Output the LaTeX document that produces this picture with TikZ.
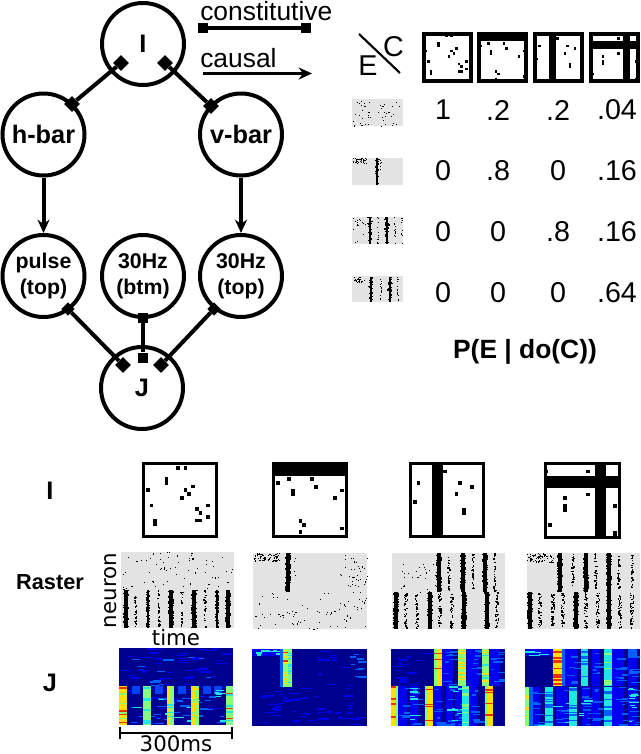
\documentclass[tikz,border=0pt]{standalone}
\usepackage{fontspec}
\setmainfont{Liberation Sans}
\newfontfamily\dejavu{DejaVu Sans}
\usetikzlibrary{arrows.meta,shapes.geometric}
\definecolor{rastergray}{HTML}{E3E3E3}
\definecolor{jnavy}{HTML}{00008F}
\definecolor{jblue}{HTML}{0000F0}
\definecolor{jazure}{HTML}{0060FF}
\definecolor{jcyan}{HTML}{20E8E0}
\definecolor{jgreen}{HTML}{88FF78}
\definecolor{jyellow}{HTML}{FFE000}
\definecolor{jred}{HTML}{E83000}
\tikzset{
  var/.style={circle,draw,line width=3pt,minimum size=61.5pt,inner sep=0pt,align=center,font=\bfseries\fontsize{16}{19.5}\selectfont},
  bigvar/.style={var,font=\bfseries\fontsize{19}{22}\selectfont},
  biglabel/.style={font=\bfseries\fontsize{19}{22}\selectfont},
  plainlabel/.style={inner sep=0pt,font=\fontsize{19.8}{22}\selectfont},
  numlabel/.style={inner sep=0pt,font=\fontsize{21.5}{24}\selectfont},
  dejalabel/.style={inner sep=0pt,font=\dejavu\fontsize{16}{19}\selectfont},
  dia/.style={diamond,fill=black,minimum size=12pt,inner sep=0pt},
  sq/.style={rectangle,fill=black,minimum size=7.5pt,inner sep=0pt},
  link/.style={line width=3pt},
  cause/.style={line width=3pt,-{Stealth[length=10pt,width=9pt]}}
}
% scattered raster dots: x0 x1 y0 y1 n size
\newcommand{\myDots}[6]{\foreach \k in {1,...,#5}{%
  \pgfmathsetmacro\da{#1+rnd*(#2-#1)}\pgfmathsetmacro\db{#3+rnd*(#4-#3)}%
  \fill (\da,\db) rectangle ++(#6,#6);}}
% spike column: x y0 y1 halfwidth n size
\newcommand{\myBar}[6]{\foreach \k in {1,...,#5}{%
  \pgfmathsetmacro\da{#1+(2*rnd-1)*#4-#6/2}\pgfmathsetmacro\db{#2+rnd*(#3-#2-#6)}%
  \fill (\da,\db) rectangle ++(#6,#6);}}
% solid spike column: x y0 y1 halfwidth n size
\newcommand{\myThick}[6]{\fill (#1-#4*.72,#2) rectangle (#1+#4*.72,#3);\myBar{#1}{#2}{#3}{#4}{#5}{#6}}
% heat column: x0 x1 y0 y1 base
\newcommand{\myHeat}[5]{\fill[#5] (#1,#3) rectangle (#2,#4);}
% horizontal streaks within a column: x0 x1 y0 y1 colour n
\newcommand{\myRows}[6]{\foreach \k in {1,...,#6}{%
  \pgfmathsetmacro\db{#3+rnd*(#4-#3-1.3)}%
  \fill[#5] (#1,\db) rectangle (#2,\db+1.3);}}
% random short dashes: x0 x1 y0 y1 colour n
\newcommand{\myDash}[6]{\foreach \k in {1,...,#6}{%
  \pgfmathsetmacro\da{#1+rnd*(#2-#1-8)}\pgfmathsetmacro\db{#3+rnd*(#4-#3-1.3)}\pgfmathsetmacro\dl{3+rnd*9}%
  \fill[#5] (\da,\db) rectangle (\da+\dl,\db+1.3);}}
% pattern box: x y size frame-inset frame-width bars cells
\newcommand{\myBox}[7]{\begin{scope}[shift={(#1,#2)},xscale=#3/20,yscale=#3/20]
  \fill[white] (0,0) rectangle (20,20);
  #6
  \foreach \cx/\cy in #7 {\fill (\cx,\cy) rectangle ++(1,1);}
  \draw[line width=#5] (#4,#4) rectangle (20-#4,20-#4);
\end{scope}}
\newcommand{\cellsA}{9/1,11/1,6/4,6/5,1/7,11/7,13/6,12/8,10/9,2/11,14/12,15/13,17/11,17/14,14/15,15/15,3/15,3/16}
\newcommand{\cellsB}{1/5,4/4,10/4,11/6,5/7,5/8,18/7,16/9,7/15,8/16,7/18,18/17}
\newcommand{\cellsC}{9/2,2/5,13/5,16/6,12/8,1/10,14/12,14/13}
\newcommand{\cellsD}{0/2,11/2,11/8,5/9,5/11,5/12,1/16,18/11,18/18,18/19}
\newcommand{\barsB}{\fill (0,0) rectangle (20,3.7);}
\newcommand{\barsC}{\fill (6.1,0) rectangle (8.9,20);}
\newcommand{\barsD}{\fill (0,3.7) rectangle (20,6.7);\fill (13.3,0) rectangle (16.2,20);}
\begin{document}
\begin{tikzpicture}[x=.75pt,y=-.75pt]
\pgfmathsetseed{11}
\useasboundingbox (0,0) rectangle (640,754);
% --- graph
\node[bigvar] (I) at (143,44) {I};
\node[bigvar] (hbar) at (43.5,134.5) {h-bar};
\node[bigvar] (vbar) at (241,134.5) {v-bar};
\node[var] (pulse) at (43.5,276) {pulse\\(top)};
\node[var] (btm) at (143,276) {30Hz\\(btm)};
\node[var] (top) at (241,276) {30Hz\\(top)};
\node[bigvar] (J) at (142,388) {J};
\node[dia] (d1) at (121,63) {};
\node[dia] (d2) at (72,104) {};
\node[dia] (d3) at (165,63) {};
\node[dia] (d4) at (211,106) {};
\node[dia,minimum size=10pt] (d5) at (68,309) {};
\node[dia] (d6) at (123,365) {};
\node[sq] (d7) at (143,318) {};
\node[sq,minimum size=8pt] (d8) at (143,358) {};
\node[dia,minimum size=10pt] (d9) at (214,309) {};
\node[dia] (d10) at (161,365) {};
\draw[link] (d1)--(d2);
\draw[link] (d3)--(d4);
\draw[link] (d5)--(d6);
\draw[link] (d7)--(d8);
\draw[link] (d9)--(d10);
\draw[cause] (hbar)--(pulse);
\draw[cause] (vbar)--(top);
% --- legend
\node[plainlabel,anchor=base west] (con) at (200,20) {constitutive};
\node[sq] (la) at (203,28) {};
\node[sq] (lb) at (306,28) {};
\draw[link] (la)--(lb);
\node[plainlabel,anchor=base west] (cau) at (200,67) {causal};
\coordinate (ca) at (203,73.5);
\coordinate (cb) at (312,73.5);
\draw[cause,line width=2.5pt] (ca)--(cb);
% --- matrix header
\coordinate (ea) at (359,34);
\coordinate (eb) at (400,73);
\draw[line width=1.6pt] (ea)--(eb);
\node[numlabel] (cl) at (393.5,46.5) {C};
\node[numlabel] (el) at (368,66) {E};
\myBox{422}{32}{51}{.68}{2.7pt}{}{\cellsA}
\myBox{477}{32}{51}{.68}{2.7pt}{\barsB}{\cellsB}
\myBox{533}{32}{51}{.68}{2.7pt}{\barsC}{\cellsC}
\myBox{589}{32}{51}{.68}{2.7pt}{\barsD}{\cellsD}
% small rasters
\fill[rastergray] (352,99) rectangle (403,126);
\myDots{353}{402}{100}{125}{40}{.9}
\myDots{352}{403}{124}{126}{10}{1}
\fill[rastergray] (352,158) rectangle (403,185);
\myDots{353}{366}{158}{163}{40}{.8}
\myThick{377}{158}{185}{2}{30}{1.2}
\myBar{381}{158}{172}{.5}{5}{.8}
\fill[rastergray] (352,217) rectangle (403,244);
\myThick{370}{217}{244}{2}{30}{1.2}
\myThick{387}{217}{244}{2}{30}{1.2}
\myBar{378}{217}{244}{.6}{14}{1}
\myBar{395}{217}{244}{.6}{14}{1}
\myBar{402}{217}{244}{.5}{10}{1}
\myDots{353}{365}{218}{243}{16}{.8}
\fill[rastergray] (352,276) rectangle (403,302);
\myDots{352}{365}{277}{282}{25}{.8}
\myThick{371}{277}{302}{2}{30}{1.2}
\myThick{390}{277}{302}{2}{30}{1.2}
\myBar{381}{277}{302}{.8}{16}{1}
\myBar{398}{277}{302}{.8}{16}{1}
% numbers
\foreach \nm/\px/\py/\tx in {a1/443/110/1,a2/498/110/.2,a3/558/110/.2,a4/617/110/.04,
  b1/443/171/0,b2/498/171/.8,b3/558/171/0,b4/617/171/.16,
  c1/443/232/0,c2/498/232/0,c3/558/232/.8,c4/617/232/.16,
  d1n/443/293/0,d2n/498/293/0,d3n/558/293/0,d4n/617/293/.64}
  {\node[numlabel] (\nm) at (\px,\py) {\tx};}
\node[inner sep=0pt,font=\bfseries\fontsize{19.8}{24}\selectfont] (pe) at (525,352) {P(E | do(C))};
% --- row labels
\node[biglabel,inner sep=0pt] (lI) at (50,491) {I};
\node[inner sep=0pt,font=\bfseries\fontsize{16.3}{20}\selectfont] (lR) at (50,582) {Raster};
\node[biglabel,inner sep=0pt] (lJ) at (50,683) {J};
% --- large pattern boxes
\myBox{142}{462}{75.5}{.35}{2.4pt}{}{\cellsA}
\myBox{272}{462}{76}{.35}{2.4pt}{\barsB}{\cellsB}
\myBox{409}{462}{76}{.35}{2.4pt}{\barsC}{\cellsC}
\myBox{544}{462}{76.5}{.35}{2.4pt}{\barsD}{\cellsD}
% --- large rasters
\fill[rastergray] (121,552) rectangle (234,628);
\myDots{122}{233}{552}{590}{65}{1.1}
\foreach \bx in {126,171,194,228}{\myThick{\bx}{590}{628}{2.8}{70}{1.3}}
\foreach \bx in {148,217}{\myThick{\bx}{590}{628}{1.8}{60}{1.3}}
\foreach \bx in {135.7,159,182,205}{\myBar{\bx}{590}{628}{1}{30}{1.3}}
\fill[rastergray] (253,553) rectangle (367,629);
\myDots{254}{280}{553}{561}{70}{1.1}
\myThick{288}{553}{592}{2.8}{70}{1.3}
\myBar{295}{553}{590}{.6}{4}{1}
\myDots{340}{367}{553}{592}{35}{1.1}
\myDots{254}{367}{592}{629}{75}{1.1}
\fill[rastergray] (392,553) rectangle (505,629);
\myDots{400}{437}{560}{592}{26}{1.1}
\foreach \bx in {439,463,485}{\myThick{\bx}{553}{592}{2.8}{70}{1.3}}
\foreach \bx in {449,473,495}{\myBar{\bx}{553}{592}{1}{32}{1.3}}
\foreach \bx in {396,430,464,487}{\myThick{\bx}{592}{629}{2.8}{70}{1.3}}
\foreach \bx in {406,417,440,452,497}{\myBar{\bx}{592}{629}{1.3}{38}{1.3}}
\fill[rastergray] (527,553) rectangle (640,629);
\myDots{527}{554}{553}{562}{70}{1.1}
\foreach \bx in {560,586,609}{\myThick{\bx}{553}{592}{2.8}{70}{1.3}}
\foreach \bx in {573,596,619,632}{\myBar{\bx}{553}{592}{1.1}{34}{1.3}}
\foreach \bx in {530,576,609}{\myThick{\bx}{592}{629}{2.8}{70}{1.3}}
\foreach \bx in {540,553,563,586,598,620,632}{\myBar{\bx}{592}{629}{1.5}{42}{1.3}}
\node[dejalabel,rotate=90,anchor=center] (ln) at (111,590.5) {neuron};
\node[dejalabel] (lt) at (176,638) {time};
% --- heat maps
% H1
\begin{scope}
\clip (119,648) rectangle (233,725);
\myHeat{119}{233}{648}{725}{jnavy}
\myDash{119}{233}{648}{686}{jblue}{40}
\myDash{119}{233}{648}{686}{jazure}{8}
\myDash{119}{233}{686}{725}{jblue}{30}
\foreach \hx in {132,155,178,203,214}{\myHeat{\hx}{\hx+7.5}{686}{694}{jazure!70!jblue}}
\myDash{150}{175}{681}{686}{jazure}{4}
\myDash{215}{226}{686}{700}{jcyan}{5}
\myDash{130}{233}{695}{725}{jazure}{26}
\myDash{130}{233}{695}{725}{jcyan}{8}
\foreach \hx in {119,191}{\myHeat{\hx}{\hx+7.5}{686}{725}{jyellow}\myRows{\hx}{\hx+7.5}{686}{725}{jgreen}{5}}
\myRows{119}{126.5}{686}{725}{jred}{7}
\myHeat{143}{151}{686}{725}{jgreen}\myRows{143}{151}{686}{725}{jcyan}{8}
\myHeat{167}{174}{686}{725}{jyellow}\myHeat{170}{174}{686}{725}{jgreen}\myRows{167}{174}{686}{725}{jcyan}{4}
\myHeat{195}{199}{686}{725}{jgreen}\myRows{191}{199}{686}{725}{jyellow}{5}
\myHeat{226}{233}{686}{725}{jgreen}\myRows{226}{233}{686}{725}{jred}{4}\myRows{226}{233}{686}{725}{jcyan}{5}
\end{scope}
% H2
\begin{scope}
\clip (252,649) rectangle (367,726);
\myHeat{252}{367}{649}{726}{jnavy}
\myDash{252}{367}{687}{726}{jblue}{45}
\myDash{300}{367}{649}{686}{jblue}{10}
\myDash{350}{367}{649}{680}{jazure}{9}
\myHeat{252}{280}{649}{656}{jblue}\myDash{252}{288}{649}{656}{jcyan}{8}
\myHeat{280}{292}{649}{687}{jgreen}\myHeat{280}{283}{649}{687}{jazure}
\myRows{283}{288}{649}{687}{jyellow}{12}\myRows{283}{288}{649}{687}{jred}{2}
\myRows{288}{292}{649}{687}{jcyan}{10}
\end{scope}
% H3
\begin{scope}
\clip (391,649) rectangle (505,726);
\myHeat{391}{505}{649}{726}{jnavy}
\myDash{391}{432}{650}{686}{jblue}{15}
\foreach \hx/\hw in {442/11,467/12,490/10}{\myHeat{\hx}{\hx+\hw}{649}{686}{jblue}\myDash{\hx}{\hx+\hw+7}{649}{686}{jazure}{9}}
\myHeat{434}{442}{649}{686}{jyellow}\myHeat{434}{437}{649}{686}{jgreen}\myRows{434}{442}{649}{686}{jred}{4}
\myHeat{458}{466}{649}{686}{jgreen}\myRows{458}{466}{649}{686}{jyellow}{12}
\myHeat{482}{489}{649}{686}{jgreen}\myRows{482}{489}{649}{686}{jyellow}{5}\myRows{482}{489}{649}{686}{jcyan}{5}
\foreach \hx/\hw in {398/9,410/8,433/8,446/7,455/7,470/7}{\myHeat{\hx}{\hx+\hw}{686}{726}{jblue}\myDash{\hx}{\hx+\hw+6}{686}{726}{jazure}{7}}
\myDash{410}{418}{686}{726}{jcyan}{6}
\myDash{446}{470}{686}{726}{jcyan}{8}
\myHeat{391}{398}{686}{726}{jyellow}\myHeat{395}{398}{686}{726}{jgreen}\myRows{391}{396}{686}{726}{jred}{5}
\myHeat{425}{433}{686}{726}{jyellow}\myHeat{425}{428}{686}{726}{jgreen}\myRows{425}{433}{686}{726}{jred}{4}
\myHeat{462}{469}{686}{726}{jcyan}\myRows{462}{469}{686}{726}{jgreen}{10}
\myHeat{485}{493}{686}{726}{jyellow}\myHeat{485}{488}{686}{726}{jgreen}\myRows{485}{493}{686}{726}{jred}{4}
\end{scope}
% H4
\begin{scope}
\clip (525,649) rectangle (640,726);
\myHeat{525}{640}{649}{726}{jnavy}
\myHeat{525}{553}{649}{656}{jblue}\myDash{525}{553}{649}{656}{jcyan}{7}
\foreach \hx/\hw in {565/12,592/8,612/12,628/9}{\myHeat{\hx}{\hx+\hw}{649}{686}{jblue}\myDash{\hx}{\hx+\hw+6}{649}{686}{jazure}{8}}
\myHeat{553}{562}{649}{686}{jyellow}\myHeat{562}{565}{649}{686}{jazure}\myRows{553}{562}{649}{686}{jred}{14}
\myHeat{581}{588}{649}{686}{jcyan}\myRows{581}{588}{649}{686}{jazure}{8}
\myHeat{604}{612}{649}{686}{jcyan}\myRows{604}{612}{649}{686}{jgreen}{8}
\myHeat{628}{637}{649}{658}{jazure}
\foreach \hx/\hw in {530/10,556/12,582/8,592/8,612/12,628/9}{\myHeat{\hx}{\hx+\hw}{687}{726}{jblue}\myDash{\hx}{\hx+\hw+7}{687}{726}{jazure}{9}}
\myDash{530}{600}{687}{726}{jcyan}{10}
\myHeat{525}{529}{687}{726}{jgreen}\myHeat{529}{533}{687}{726}{jazure}\myRows{525}{529}{687}{726}{jyellow}{6}
\myHeat{545}{553}{687}{726}{jcyan}\myRows{545}{553}{687}{726}{jazure}{10}
\myHeat{569}{577}{687}{726}{jcyan}\myRows{569}{577}{687}{726}{jazure}{8}
\myHeat{604}{612}{687}{726}{jcyan}\myRows{604}{612}{687}{726}{jazure}{10}
\myDash{628}{640}{687}{726}{jcyan}{10}
\end{scope}
% --- scale bar
\coordinate (sa) at (119,733);
\coordinate (sb) at (233,733);
\draw[line width=1.4pt,{Bar[width=9pt]}-{Bar[width=9pt]}] (sa)--(sb);
\node[dejalabel] (ls) at (176,743.5) {300ms};
\end{tikzpicture}
\end{document}
